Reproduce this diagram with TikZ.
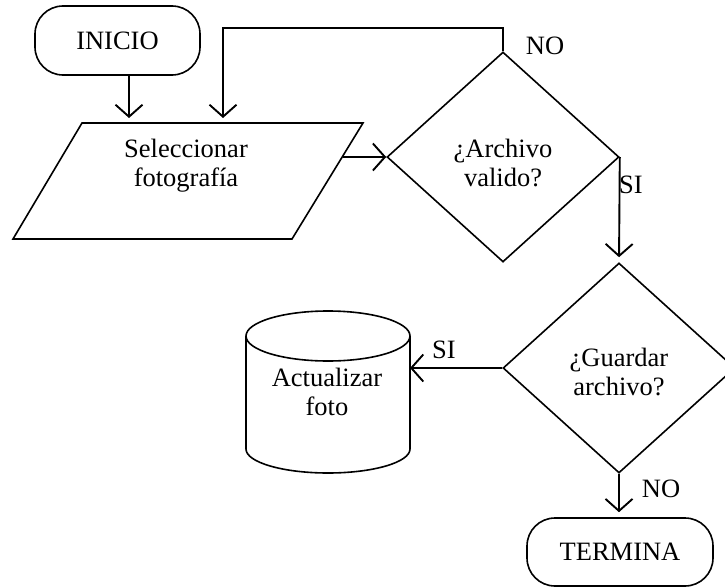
\documentclass[tikz,border=0pt]{standalone}
\usepackage{fontspec}
\setmainfont{Liberation Serif}
\usetikzlibrary{shapes.geometric,arrows.meta,calc}
\begin{document}
\begin{tikzpicture}[x=1pt,y=-1pt,
  line width=1.6pt,
  every node/.style={font=\fontsize{26.5}{29}\selectfont, align=center},
  term/.style={draw, rounded corners=28pt, minimum width=165pt, minimum height=69pt, inner sep=0pt},
  decision/.style={draw, diamond, minimum width=232pt, minimum height=210pt, inner sep=0pt},
  flow/.style={-{Straight Barb[length=12pt,width=27pt]}, line width=1.9pt},
  lbl/.style={inner sep=0pt}
]
\useasboundingbox (0,0) rectangle (725,586);
\clip (0,0) rectangle (725,586);

% start
\node[term] (inicio) at (117.5,40.5) {INICIO};

% input parallelogram
\coordinate (pTL) at (82,123);
\coordinate (pTR) at (363,123);
\coordinate (pBR) at (292,239);
\coordinate (pBL) at (13,239);
\draw (pTL) -- (pTR) -- (pBR) -- (pBL) -- cycle;
\node (sel) at (186,166) {Seleccionar\\fotografía};
\coordinate (pin1) at (129,123);
\coordinate (pin2) at (223,123);
\coordinate (pR) at (342.5,157);

% decisions
\node[decision] (d1) at (503,157) {};
\node (t1) at (503,163) {¿Archivo\\valido?};
\node[decision] (d2) at (619,368) {};
\node (t2) at (619,372) {¿Guardar\\archivo?};

% storage cylinder
\draw (328,336) ellipse [x radius=82pt, y radius=25pt];
\draw (246,336) -- (246,449) arc[start angle=180, end angle=360, x radius=82pt, y radius=24pt] -- (410,336);
\node (act) at (327,392) {Actualizar\\foto};
\coordinate (cylR) at (410,368);

% end
\node[term, minimum width=186pt, minimum height=68pt] (fin) at (620,552) {TERMINA};

% connectors
\draw[flow, shorten >=5pt] (inicio.south -| pin1) -- (pin1);
\draw[flow, shorten >=5pt] (d1.north) -- ++(0,-23) -| (pin2);
\draw[flow] (pR) -- (d1.west);
\draw[flow, shorten >=5pt] (d1.east) -- (d2.north);
\draw[flow] (d2.west) -- (cylR);
\draw[flow, shorten >=5pt] (d2.south) -- (d2.south |- fin.north);

% labels
\node[lbl] (no1) at (545,46) {NO};
\node[lbl] (si1) at (631,185) {SI};
\node[lbl] (si2) at (444,350) {SI};
\node[lbl] (no2) at (661,489) {NO};
\end{tikzpicture}
\end{document}
